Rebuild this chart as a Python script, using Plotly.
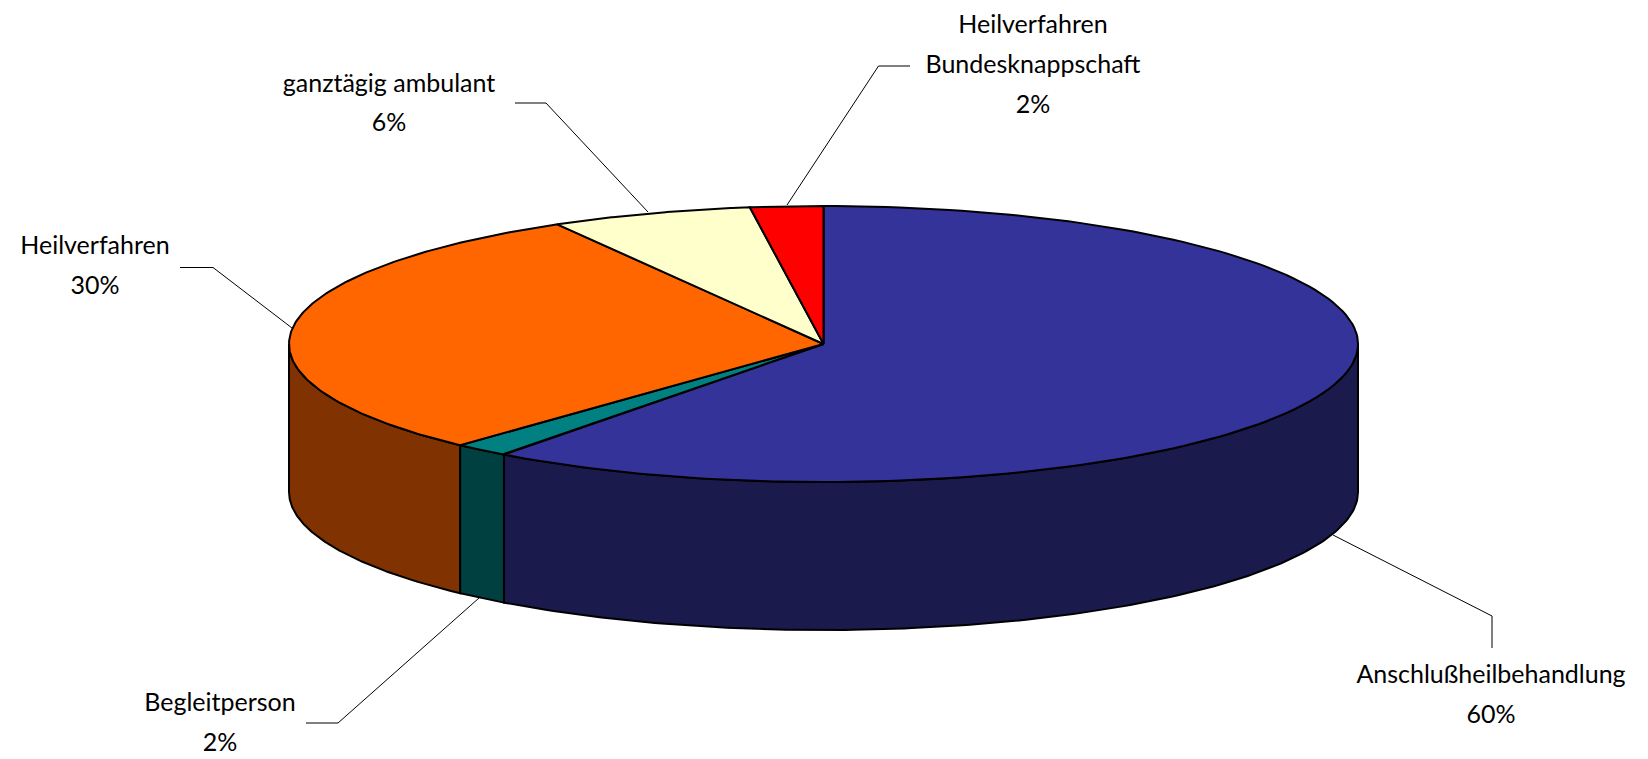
import numpy as np
import plotly.graph_objects as go

# --- data -----------------------------------------------------------------
categories = ["Anschlußheilbehandlung", "Begleitperson", "Heilverfahren",
              "ganztägig ambulant", "Heilverfahren Bundesknappschaft"]
values = [60.2, 1.7, 29.8, 6.1, 2.2]
top_colors = ["#333399", "#008080", "#FF6600", "#FFFFCC", "#FF0000"]
side_colors = ["#1A1A4D", "#004040", "#803300", "#80805F", "#800000"]

# --- layout of the drawing (pixel-like axis units) ------------------------
W, H = 1648, 759
CX, CY, RX, RY, DEPTH = 823.5, 344.0, 534.5, 138.0, 148.0
FONT = dict(family="Lato", size=25, color="#000000")

# label lines with centre positions, one entry per category
label_lines = [
    (["Anschlußheilbehandlung"], 1491, [677, 717]),
    (["Begleitperson"], 220, [705, 745]),
    (["Heilverfahren"], 95, [248, 288]),
    (["ganztägig ambulant"], 389, [86, 125]),
    (["Heilverfahren", "Bundesknappschaft"], 1033, [27, 67, 107]),
]
leaders = [
    ([1492, 1492, 1333], [648, 616, 535]),
    ([306, 338, 479], [723, 723, 598]),
    ([180, 213, 292], [267.5, 267.5, 328]),
    ([515, 546, 648], [103, 103, 212]),
    ([910, 878.5, 787], [66, 66, 205]),
]


def rim(a0, a1, n=160):
    t = np.radians(np.linspace(a0, a1, n))
    return CX + RX * np.sin(t), CY - RY * np.cos(t)


fig = go.Figure()


def poly(x, y, fill):
    fig.add_trace(go.Scatter(x=list(x), y=list(y), mode="lines", fill="toself",
                             fillcolor=fill, hoverinfo="skip",
                             line=dict(color="#000000", width=2, shape="linear"),
                             showlegend=False))


shares = np.array(values) / sum(values) * 360.0
ends = np.cumsum(shares)
starts = ends - shares

# visible outer wall: the part of each slice on the front half (90..270 deg)
for a0, a1, c in zip(starts, ends, side_colors):
    lo, hi = max(a0, 90.0), min(a1, 270.0)
    if lo < hi:
        xs, ys = rim(lo, hi)
        poly(np.r_[xs, xs[::-1], xs[0]], np.r_[ys, ys[::-1] + DEPTH, ys[0]], c)

# top faces
for a0, a1, c in zip(starts, ends, top_colors):
    xs, ys = rim(a0, a1)
    poly(np.r_[CX, xs, CX], np.r_[CY, ys, CY], c)

# leader lines
for lx, ly in leaders:
    fig.add_trace(go.Scatter(x=lx, y=ly, mode="lines", hoverinfo="skip", showlegend=False,
                             line=dict(color="#000000", width=1)))

# labels
for (lines, x, ys), v in zip(label_lines, values):
    texts = lines + [f"{round(v)}%"]
    fig.add_trace(go.Scatter(x=[x] * len(texts), y=ys, text=texts, mode="text",
                             textposition="middle center", textfont=FONT,
                             hoverinfo="skip", showlegend=False))

fig.update_layout(
    width=W, height=H, margin=dict(l=0, r=0, t=0, b=0),
    paper_bgcolor="#FFFFFF", plot_bgcolor="#FFFFFF", showlegend=False,
    xaxis=dict(range=[0, W], visible=False, fixedrange=True),
    yaxis=dict(range=[H, 0], visible=False, fixedrange=True),
)
fig.write_html("out.html", config={"displayModeBar": False},
               post_script="document.body.style.margin='0';document.body.style.overflow='hidden';")
